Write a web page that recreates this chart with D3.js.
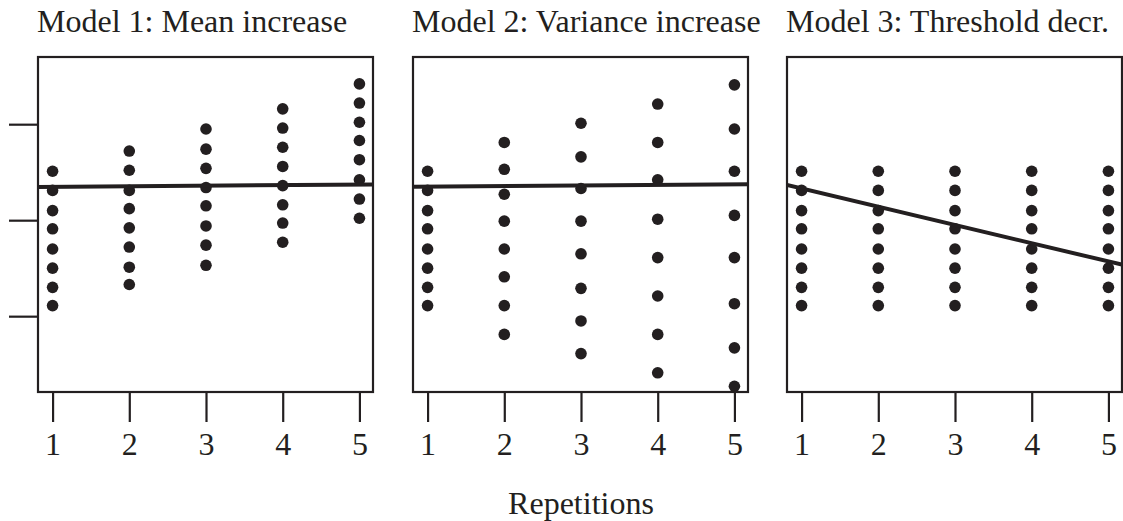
<!DOCTYPE html>
<html>
<head>
<meta charset="utf-8">
<script src="https://cdn.jsdelivr.net/npm/d3@7"></script>
<style>
    body { margin: 0; background: #fff; }
</style>
</head>
<body>
<div id="visual-container"></div>
<script>
// Data
const titles = ["Model 1: Mean increase", "Model 2: Variance increase", "Model 3: Threshold decr."];
const reps = [1, 2, 3, 4, 5];
const yTicks = [-1, 0, 1];

// one array of 8 dot values per repetition
const model1 = [
    [0.51, 0.31, 0.10, -0.09, -0.30, -0.50, -0.70, -0.89],
    [0.72, 0.52, 0.31, 0.12, -0.08, -0.28, -0.49, -0.67],
    [0.95, 0.74, 0.54, 0.34, 0.15, -0.06, -0.26, -0.47],
    [1.16, 0.96, 0.76, 0.56, 0.36, 0.16, -0.03, -0.23],
    [1.42, 1.22, 1.02, 0.83, 0.63, 0.42, 0.22, 0.02]
];
const model2 = [
    [0.51, 0.31, 0.10, -0.09, -0.30, -0.50, -0.70, -0.89],
    [0.81, 0.53, 0.27, -0.01, -0.30, -0.59, -0.89, -1.19],
    [1.01, 0.66, 0.33, -0.01, -0.35, -0.71, -1.05, -1.39],
    [1.21, 0.81, 0.42, 0.01, -0.39, -0.79, -1.19, -1.59],
    [1.41, 0.95, 0.51, 0.05, -0.39, -0.87, -1.33, -1.73]
];
const model3 = [
    [0.51, 0.31, 0.10, -0.09, -0.30, -0.50, -0.70, -0.89],
    [0.51, 0.31, 0.10, -0.09, -0.30, -0.50, -0.70, -0.89],
    [0.51, 0.31, 0.10, -0.09, -0.30, -0.50, -0.70, -0.89],
    [0.51, 0.31, 0.10, -0.09, -0.30, -0.50, -0.70, -0.89],
    [0.51, 0.31, 0.10, -0.09, -0.30, -0.50, -0.70, -0.89]
];
// fitted line: intercept and slope per model
const fitIntercept = [0.342, 0.342, 0.52];
const fitSlope = [0.0057, 0.0064, -0.19];

const allModels = [model1, model2, model3];

// Canvas
const width = 1123;
const height = 521;
const panelW = 336;
const panelLeft = [38, 413, 787];
const plotTop = 57;
const plotBottom = 392;
const ink = "#231f20";
const serif = "'Liberation Serif', 'Times New Roman', Times, 'DejaVu Serif', serif";

const svg = d3.select("#visual-container")
    .append("svg")
    .attr("width", width)
    .attr("height", height);

svg.append("rect").attr("width", width).attr("height", height).attr("fill", "#fff");

const y = d3.scaleLinear().domain([-1.79, 1.70]).range([plotBottom, plotTop]);

allModels.forEach((model, i) => {
    const x = d3.scaleLinear()
        .domain([0.81, 5.19])
        .range([panelLeft[i], panelLeft[i] + panelW]);

    const g = svg.append("g");

    // clip so the fitted line stops at the frame
    g.append("clipPath").attr("id", "clip" + i)
        .append("rect")
        .attr("x", panelLeft[i]).attr("y", plotTop)
        .attr("width", panelW).attr("height", plotBottom - plotTop);

    // dots
    const points = [];
    model.forEach((vals, j) => vals.forEach(v => points.push({ rep: reps[j], v: v })));
    g.selectAll("circle")
        .data(points)
        .enter().append("circle")
        .attr("cx", d => x(d.rep))
        .attr("cy", d => y(d.v))
        .attr("r", 5.8)
        .attr("fill", ink);

    // fitted line across the whole panel
    const [x0, x1] = x.domain();
    g.append("line")
        .attr("clip-path", `url(#clip${i})`)
        .attr("x1", x(x0)).attr("y1", y(fitIntercept[i] + fitSlope[i] * x0))
        .attr("x2", x(x1)).attr("y2", y(fitIntercept[i] + fitSlope[i] * x1))
        .attr("stroke", ink)
        .attr("stroke-width", 4);

    // frame
    g.append("rect")
        .attr("x", panelLeft[i]).attr("y", plotTop)
        .attr("width", panelW - 1).attr("height", plotBottom - plotTop)
        .attr("fill", "none")
        .attr("stroke", ink)
        .attr("stroke-width", 2.2);

    // x axis ticks + labels
    const xAxis = g.append("g")
        .attr("transform", `translate(0,${plotBottom})`)
        .call(d3.axisBottom(x).tickValues(reps).tickSize(30).tickPadding(10).tickFormat(d3.format("d")));
    xAxis.select(".domain").remove();
    xAxis.selectAll("line").attr("stroke", ink).attr("stroke-width", 2.2);
    xAxis.attr("font-family", null).attr("font-size", null);
    xAxis.selectAll("text")
        .style("font-family", serif)
        .style("font-size", "32px")
        .attr("fill", ink);

    // title
    g.append("text")
        .attr("x", panelLeft[i] - 1)
        .attr("y", 32)
        .style("font-family", serif)
        .style("font-size", "32px")
        .attr("fill", ink)
        .text(titles[i]);
});

// y axis ticks only (no labels)
const yAxis = svg.append("g")
    .attr("transform", `translate(${panelLeft[0]},0)`)
    .call(d3.axisLeft(y).tickValues(yTicks).tickSize(29).tickFormat(""));
yAxis.select(".domain").remove();
yAxis.selectAll("line").attr("stroke", ink).attr("stroke-width", 2.2);

// x axis title
svg.append("text")
    .attr("x", panelLeft[1] + panelW / 2)
    .attr("y", 514)
    .attr("text-anchor", "middle")
    .style("font-family", serif)
    .style("font-size", "32px")
    .attr("fill", ink)
    .text("Repetitions");
</script>
</body>
</html>
